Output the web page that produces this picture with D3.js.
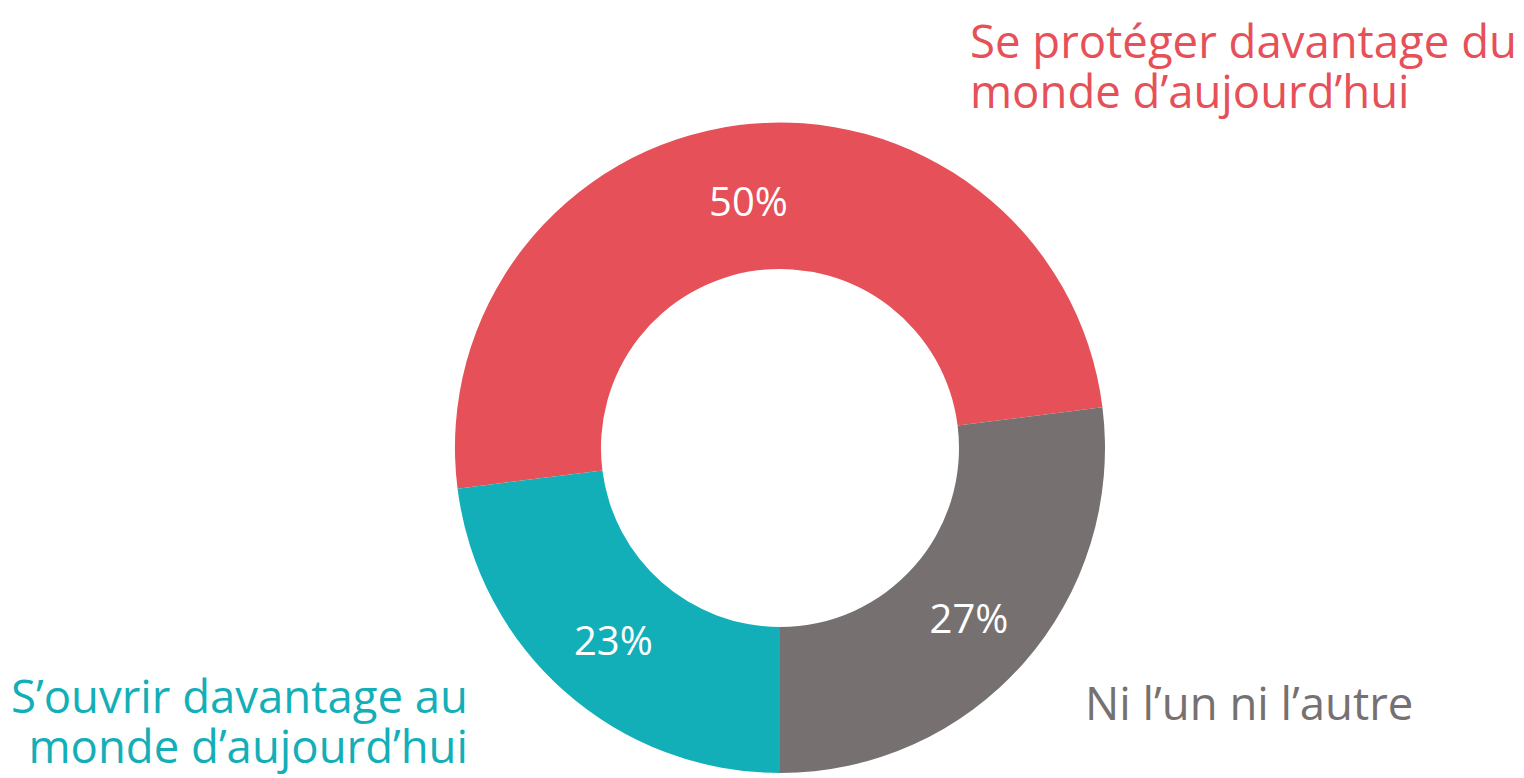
<!DOCTYPE html>
<html>
<head>
<meta charset="utf-8">
<script src="https://cdn.jsdelivr.net/npm/d3@7"></script>
<style>
  html, body { margin: 0; padding: 0; background: #fff; }
  svg { display: block; font-family: "Segoe UI", "Open Sans", sans-serif; }
</style>
</head>
<body>
<div id="chart"></div>
<script>
const categories = ["Se protéger davantage du monde d’aujourd’hui", "Ni l’un ni l’autre", "S’ouvrir davantage au monde d’aujourd’hui"];
const values = [50, 27, 23];
const colors = ["#E65058", "#767170", "#13AFB8"];

// label lines per category
const labelLines = [
    ["Se protéger davantage du", "monde d’aujourd’hui"],
    ["Ni l’un ni l’autre"],
    ["S’ouvrir davantage au", "monde d’aujourd’hui"]
];

const width = 1524;
const height = 778;
const cx = 780, cy = 448;
const outerR = 325, innerR = 179;

const svg = d3.select("#chart")
    .append("svg")
    .attr("width", width)
    .attr("height", height);

const data = categories.map((c, i) => ({ name: c, value: values[i], color: colors[i], lines: labelLines[i] }));

const startA = -97.2 * Math.PI / 180;
const pie = d3.pie()
    .value(d => d.value)
    .sort(null)
    .startAngle(startA)
    .endAngle(startA + 2 * Math.PI);

const arc = d3.arc().innerRadius(innerR).outerRadius(outerR);

const g = svg.append("g").attr("transform", `translate(${cx},${cy})`);

const slices = g.selectAll("g.slice")
    .data(pie(data))
    .enter()
    .append("g")
    .attr("class", "slice");

slices.append("path")
    .attr("d", arc)
    .attr("fill", d => d.data.color);

slices.append("text")
    .attr("transform", d => `translate(${arc.centroid(d)})`)
    .attr("text-anchor", "middle")
    .attr("dy", "0.45em")
    .attr("fill", "#fff")
    .attr("font-size", "40px")
    .text(d => d.data.value + "%");

// outside category labels
const labelPos = [
    { x: 970, y: 58, anchor: "start" },
    { x: 1085, y: 720, anchor: "start" },
    { x: 468, y: 713, anchor: "end" }
];

data.forEach((d, i) => {
    const p = labelPos[i];
    const t = svg.append("text")
        .attr("x", p.x)
        .attr("y", p.y)
        .attr("text-anchor", p.anchor)
        .attr("fill", d.color)
        .attr("font-size", "45.5px");
    t.selectAll("tspan")
        .data(d.lines)
        .enter()
        .append("tspan")
        .attr("x", p.x)
        .attr("dy", (l, j) => j === 0 ? 0 : 50)
        .text(l => l);
});
</script>
</body>
</html>
